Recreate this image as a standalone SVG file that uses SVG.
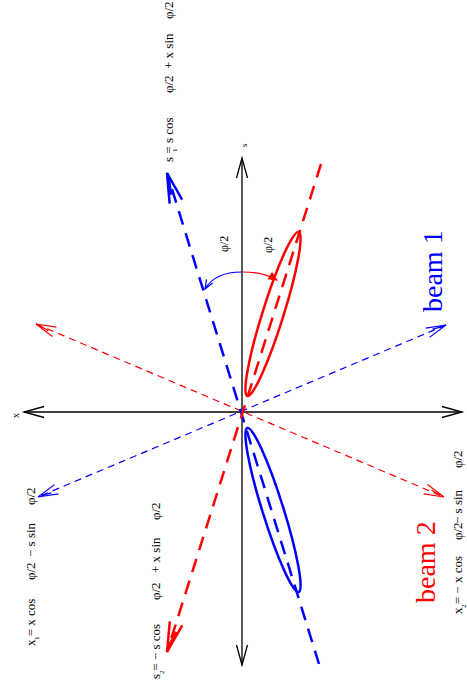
<svg xmlns="http://www.w3.org/2000/svg" width="467" height="691" viewBox="0 0 467 691">
<style>
.t{font-family:"Liberation Serif","DejaVu Serif",serif;font-size:13px;fill:#000}
.sub{font-family:"Liberation Serif",serif;font-size:7px;fill:#000}
.lab{font-family:"Liberation Serif",serif;font-size:12px;fill:#000}
.beam{font-family:"Liberation Serif",serif;font-size:28px}
.axis{stroke:#000;stroke-width:1.3;fill:none}
.thickB{stroke:#0000ff;stroke-width:2.5;fill:none;stroke-dasharray:14 9}
.thickR{stroke:#ff0000;stroke-width:2.5;fill:none;stroke-dasharray:14 9}
.thinB{stroke:#0000ff;stroke-width:1.2;fill:none;stroke-dasharray:7 5}
.thinR{stroke:#ff0000;stroke-width:1.2;fill:none;stroke-dasharray:7 5}
</style>
<defs>
<marker id="aK" markerUnits="userSpaceOnUse" orient="auto-start-reverse" refX="0" refY="0" markerWidth="1" markerHeight="1" overflow="visible"><path d="M-20,-5.5 L0,0 L-20,5.5" fill="none" stroke="#000" stroke-width="1.3"/></marker>
<marker id="aBt" markerUnits="userSpaceOnUse" orient="auto-start-reverse" refX="0" refY="0" markerWidth="1" markerHeight="1" overflow="visible"><path d="M-30,-6.5 L0,0 L-30,6.5 M-22,-2.5 L-6,0" fill="none" stroke="#0000ff" stroke-width="2.5"/></marker>
<marker id="aRt" markerUnits="userSpaceOnUse" orient="auto-start-reverse" refX="0" refY="0" markerWidth="1" markerHeight="1" overflow="visible"><path d="M-30,-6.5 L0,0 L-30,6.5 M-22,-2.5 L-6,0" fill="none" stroke="#ff0000" stroke-width="2.5"/></marker>
<marker id="aBn" markerUnits="userSpaceOnUse" orient="auto-start-reverse" refX="0" refY="0" markerWidth="1" markerHeight="1" overflow="visible"><path d="M-20,-5 L0,0 L-20,5 M-14,-1.5 L-4,0" fill="none" stroke="#0000ff" stroke-width="1.2"/></marker>
<marker id="aRn" markerUnits="userSpaceOnUse" orient="auto-start-reverse" refX="0" refY="0" markerWidth="1" markerHeight="1" overflow="visible"><path d="M-20,-5 L0,0 L-20,5 M-14,-1.5 L-4,0" fill="none" stroke="#ff0000" stroke-width="1.2"/></marker>
<marker id="sB" markerUnits="userSpaceOnUse" orient="auto" refX="0" refY="0" markerWidth="1" markerHeight="1" overflow="visible"><path d="M-9,-3.5 L0,0 L-9,3.5" fill="none" stroke="#0000ff" stroke-width="1.2"/></marker>
<marker id="sR" markerUnits="userSpaceOnUse" orient="auto" refX="0" refY="0" markerWidth="1" markerHeight="1" overflow="visible"><path d="M-8,-3.5 L0,0 L-8,3.5 Z" fill="#ff0000" stroke="#ff0000" stroke-width="1"/></marker>
</defs>

<g id="connectors">
  <path id="x-axis" class="axis" d="M24,412 L462,412" marker-start="url(#aK)" marker-end="url(#aK)"/>
  <path id="s-axis" class="axis" d="M242,158 L242,665" marker-start="url(#aK)" marker-end="url(#aK)"/>
  <path id="x1-axis" class="thinB" d="M446,325 L38,497" marker-start="url(#aBn)" marker-end="url(#aBn)"/>
  <path id="x2-axis" class="thinR" d="M36,324 L444,497" marker-start="url(#aRn)" marker-end="url(#aRn)"/>
  <path id="s1-axis" class="thickB" d="M319,664 L167,173" marker-end="url(#aBt)"/>
  <path id="s2-axis" class="thickR" d="M321,164 L167,652" marker-end="url(#aRt)"/>
  <path id="arc-blue" d="M242,272 Q215,272 205,289" fill="none" stroke="#0000ff" stroke-width="1.2" marker-end="url(#sB)"/>
  <path id="arc-red" d="M242,272 Q264,272 277,280" fill="none" stroke="#ff0000" stroke-width="1.2" marker-end="url(#sR)"/>
</g>

<g id="beam1-ellipse">
  <ellipse cx="273" cy="314" rx="86" ry="10.5" transform="rotate(-72.6 273 314)" fill="none" stroke="#ff0000" stroke-width="2.5"/>
</g>
<g id="beam2-ellipse">
  <ellipse cx="273" cy="510" rx="86" ry="10.5" transform="rotate(72.6 273 510)" fill="none" stroke="#0000ff" stroke-width="2.5"/>
</g>

<g id="axis-labels">
  <text class="sub" style="font-size:10px" transform="translate(19,418) rotate(-90)">x</text>
  <text class="sub" style="font-size:9px" transform="translate(247,147) rotate(-90)">s</text>
  <text class="lab" transform="translate(228,252) rotate(-90)">φ/2</text>
  <text class="lab" transform="translate(272,253) rotate(-90)">φ/2</text>
</g>

<g id="beam1-label">
  <text class="beam" fill="#0000ff" transform="translate(442,312) rotate(-90)">beam 1</text>
</g>
<g id="beam2-label">
  <text class="beam" fill="#ff0000" transform="translate(435,603) rotate(-90)">beam 2</text>
</g>

<g id="formula-s1">
  <text class="t" transform="translate(173,162) rotate(-90)">s = s cos</text>
  <text class="sub" transform="translate(177,152) rotate(-90)">1</text>
  <text class="t" transform="translate(173,93) rotate(-90)">φ/2</text>
  <text class="t" transform="translate(173,69) rotate(-90)">+ x sin</text>
  <text class="t" transform="translate(173,19) rotate(-90)">φ/2</text>
</g>
<g id="formula-x1">
  <text class="t" transform="translate(35,646) rotate(-90)">x = x cos</text>
  <text class="sub" transform="translate(39,640) rotate(-90)">1</text>
  <text class="t" transform="translate(35,580) rotate(-90)">φ/2</text>
  <text class="t" transform="translate(35,557) rotate(-90)">− s sin</text>
  <text class="t" transform="translate(35,505) rotate(-90)">φ/2</text>
</g>
<g id="formula-s2">
  <text class="t" transform="translate(160,679) rotate(-90)">s = − s cos</text>
  <text class="sub" transform="translate(164,674) rotate(-90)">2</text>
  <text class="t" transform="translate(160,600) rotate(-90)">φ/2</text>
  <text class="t" transform="translate(160,573) rotate(-90)">+ x sin</text>
  <text class="t" transform="translate(160,520) rotate(-90)">φ/2</text>
</g>
<g id="formula-x2">
  <text class="t" transform="translate(462,614) rotate(-90)">x = − x cos</text>
  <text class="sub" transform="translate(466,608) rotate(-90)">2</text>
  <text class="t" transform="translate(462,540) rotate(-90)">φ/2</text>
  <text class="t" transform="translate(462,524) rotate(-90)">− s sin</text>
  <text class="t" transform="translate(462,468) rotate(-90)">φ/2</text>
</g>
</svg>
